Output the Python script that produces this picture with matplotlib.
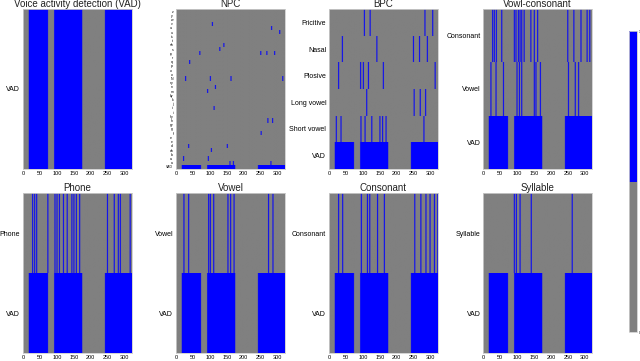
import matplotlib.pyplot as plt
import numpy as np
from matplotlib.colors import ListedColormap

plt.rcParams['font.family'] = ['Liberation Sans', 'DejaVu Sans']

# frames and voice activity
n_frames = 322
vad_segments = [(17, 74), (92, 175), (242, 322)]

# single-row label tracks (frame indices of each event)
phone_frames = [27, 33, 39, 72, 93, 99, 106, 118, 129, 143, 149, 156, 166,
                248, 268, 280, 286, 315]
vowel_frames = [22, 36, 95, 100, 110, 152, 160, 170, 272, 285]
consonant_frames = [27, 39, 94, 112, 119, 142, 162, 252, 270, 285, 297, 310, 320]
syllable_frames = [91, 97, 108, 141, 262]

# vowel / consonant panel
vc_labels = ["Vowel", "Consonant"]
vc_vowel_frames = [22, 37, 59, 99, 106, 113, 150, 155, 168, 251, 271, 281]
vc_consonant_frames = [27, 32, 38, 54, 91, 96, 103, 108, 113, 120, 140, 150, 160,
                       249, 267, 288, 306, 314]

# broad phoneme classes
bpc_labels = ["Short vowel", "Long vowel", "Plosive", "Nasal", "Fricitive"]
bpc_short_vowel = [20, 34, 93, 105, 125, 149, 157, 167, 279]
bpc_long_vowel = [110, 250, 268, 284]
bpc_plosive = [27, 92, 100, 115, 159, 312]
bpc_nasal = [38, 140, 248, 266, 289]
bpc_fricative = [103, 120, 282, 305]

# narrow phoneme classes
npc_labels = ["a", "a:", "b", "ch", "d", "e", "e:", "f", "g", "gy", "h", "hy",
              "i", "i:", "j", "k", "ky", "m", "n", "ny", "N", "o", "o:", "p",
              "q", "r", "ry", "s", "sh", "t", "ts", "u", "u:", "v", "w", "y", "z"]
npc_event_phones = ["v", "u:", "u", "sh", "s", "ry", "ry", "ry", "ry", "q",
                    "N", "N", "N", "N", "n", "m", "i:", "h", "h", "f",
                    "d", "d", "ch", "a:", "a:", "a", "a", "a"]
npc_event_frames = [106, 281, 305, 140, 128, 69, 249, 267, 290, 39,
                    27, 100, 161, 314, 115, 92, 111, 270, 284, 250,
                    36, 150, 103, 21, 94, 158, 168, 279]

EVENT_WIDTH = 3
cmap = ListedColormap(["#808080", "#0000ff"])


def vad_row():
    row = np.zeros(n_frames)
    for s, e in vad_segments:
        row[s:e] = 1
    return row


def event_row(frames):
    row = np.zeros(n_frames)
    for f in frames:
        row[f:f + EVENT_WIDTH] = 1
    return row


def show(ax, rows, labels, title, label_size=5):
    # one image per row so rows don't bleed into each other
    for i, r in enumerate(rows):
        im = ax.imshow(r[None, :], aspect="auto", cmap=cmap, vmin=0, vmax=1,
                       extent=(-0.5, n_frames - 0.5, i - 0.5, i + 0.5))
    ax.set_xlim(-0.5, n_frames - 0.5)
    ax.set_ylim(-0.5, len(rows) - 0.5)
    ax.set_title(title, fontsize=7, color="#222222", pad=1.5)
    ax.set_yticks(range(len(labels)))
    ax.set_yticklabels(labels, fontsize=label_size)
    ax.set_xticks(range(0, 301, 50))
    ax.tick_params(axis="x", labelsize=4, length=0, pad=1.5)
    ax.tick_params(axis="y", length=0, pad=2)
    for sp in ax.spines.values():
        sp.set_color("#cccccc")
        sp.set_linewidth(0.6)
    return im


fig = plt.figure(figsize=(6.4, 3.61), dpi=100)
lefts = [0.036, 0.275, 0.514, 0.755]
bottoms = [0.532, 0.022]
w, h = 0.170, 0.443
axes = [[fig.add_axes([l, b, w, h]) for l in lefts] for b in bottoms]

vad = vad_row()

show(axes[0][0], [vad], ["VAD"], "Voice activity detection (VAD)")

npc_rows = [vad] + [np.zeros(n_frames) for _ in npc_labels]
for p, f in zip(npc_event_phones, npc_event_frames):
    npc_rows[npc_labels.index(p) + 1][f:f + EVENT_WIDTH] = 1
show(axes[0][1], npc_rows, ["VAD"] + npc_labels, "NPC", label_size=2.5)

bpc_rows = [vad] + [event_row(r) for r in
                    [bpc_short_vowel, bpc_long_vowel, bpc_plosive, bpc_nasal, bpc_fricative]]
show(axes[0][2], bpc_rows, ["VAD"] + bpc_labels, "BPC")

show(axes[0][3], [vad, event_row(vc_vowel_frames), event_row(vc_consonant_frames)],
     ["VAD"] + vc_labels, "Vowl-consonant")

show(axes[1][0], [vad, event_row(phone_frames)], ["VAD", "Phone"], "Phone")
show(axes[1][1], [vad, event_row(vowel_frames)], ["VAD", "Vowel"], "Vowel")
show(axes[1][2], [vad, event_row(consonant_frames)], ["VAD", "Consonant"], "Consonant")
im = show(axes[1][3], [vad, event_row(syllable_frames)], ["VAD", "Syllable"], "Syllable")

cax = fig.add_axes([0.983, 0.080, 0.0125, 0.834])
cb = fig.colorbar(im, cax=cax, ticks=[0, 1])
cb.ax.tick_params(labelsize=2.5, length=0, pad=1)
cb.outline.set_edgecolor("#cccccc")
cb.outline.set_linewidth(0.6)

fig.savefig("out.png", dpi=100)
